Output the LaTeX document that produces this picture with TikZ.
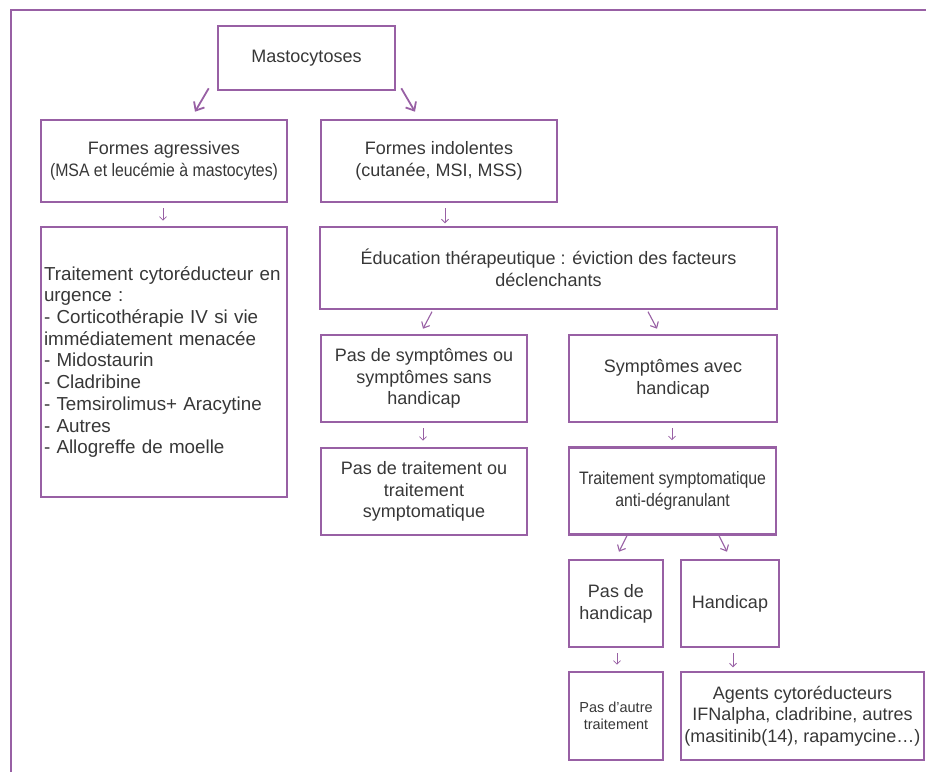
\documentclass[tikz,border=0pt]{standalone}
\usepackage{fontspec}
\setmainfont{Liberation Sans}
\newfontfamily\condfont[FakeStretch=0.88]{Liberation Sans}
\usetikzlibrary{arrows.meta,calc}
\definecolor{frame}{RGB}{152,96,164}
\definecolor{txt}{RGB}{55,55,55}
\begin{document}
\begin{tikzpicture}[x=1pt,y=-1pt,
  font=\fontsize{18}{21.7}\selectfont,
  box/.style={draw=frame, line width=2.6pt, text=txt, align=center, inner sep=2pt},
  bigarr/.style={draw=frame, line width=1.8pt, -{Straight Barb[length=7pt,width=12pt,line width=1.8pt]}},
  midarr/.style={draw=frame, line width=1.1pt, -{Straight Barb[length=5pt,width=9pt,line width=1.1pt]}},
  smallarr/.style={draw=frame, line width=0.8pt, -{Straight Barb[length=3.5pt,width=7pt,line width=0.8pt]}}]
\useasboundingbox (0,0) rectangle (926,772);
% outer frame
\draw[frame, line width=2.6pt] (11,772) -- (11,10) -- (926,10);

\node[box, minimum width=177pt, minimum height=64pt] (mast) at (306.5,58) {Mastocytoses};
\node[box, minimum width=246pt, minimum height=82pt] (agr) at (164,161)
  {Formes agressives\\{\condfont (MSA et leucémie à mastocytes)}};
\node[box, minimum width=236pt, minimum height=82pt] (ind) at (439,161)
  {Formes indolentes\\(cutanée, MSI, MSS)};
\node[box, text width=240pt, align=left, inner xsep=3pt, minimum height=270pt,
  font=\fontsize{18.8}{21.7}\selectfont] (cyt) at (164,362)
  {Traitement cytoréducteur en\\urgence :\\- Corticothérapie IV si vie\\immédiatement menacée\\- Midostaurin\\- Cladribine\\- Temsirolimus+ Aracytine\\- Autres\\- Allogreffe de moelle};
\node[box, minimum width=457pt, minimum height=82pt] (edu) at (548.5,268)
  {Éducation thérapeutique : éviction des facteurs\\déclenchants};
\node[box, minimum width=206pt, minimum height=87pt] (psy) at (424,378.5)
  {Pas de symptômes ou\\symptômes sans\\handicap};
\node[box, minimum width=208pt, minimum height=87pt] (sav) at (673,378.5)
  {Symptômes avec\\handicap};
\node[box, minimum width=206pt, minimum height=87pt] (ptr) at (424,491.5)
  {Pas de traitement ou\\traitement\\symptomatique};
\node[box, minimum width=207pt, minimum height=87pt] (tsy) at (672.5,491)
  {{\condfont Traitement symptomatique}\\{\condfont anti-dégranulant}};
\node[box, minimum width=94pt, minimum height=87pt] (pdh) at (616,603.5)
  {Pas de\\handicap};
\node[box, minimum width=98pt, minimum height=87pt] (hand) at (730,603.5)
  {Handicap};
\node[box, minimum width=94pt, minimum height=88pt,
  font=\fontsize{14.5}{16.7}\selectfont] (pat) at (616,716)
  {Pas d’autre\\traitement};
\node[box, minimum width=243pt, minimum height=88pt] (agents) at (802.5,716)
  {Agents cytoréducteurs\\IFNalpha, cladribine, autres\\(masitinib(14), rapamycine…)};

% connectors
\draw[bigarr] ($(mast.south west)+(-8,-3)$) -- ($(agr.north)+(31,-7)$);
\draw[bigarr] ($(mast.south east)+(5,-3)$) -- ($(ind.north)+(-24,-7)$);
\draw[smallarr] ($(agr.south)+(-1,5)$) -- ($(cyt.north)+(-1,-5)$);
\draw[smallarr] ($(ind.south)+(6,5)$) -- ($(ind.south)+(6,20)$);
\draw[midarr] ($(psy.north)+(8,-22)$) -- ($(psy.north)+(-1,-5)$);
\draw[midarr] ($(sav.north)+(-25,-22)$) -- ($(sav.north)+(-16,-5)$);
\draw[smallarr] ($(psy.south)+(-1,5)$) -- ($(ptr.north)+(-1,-6)$);
\draw[smallarr] ($(sav.south)+(-1,5)$) -- ($(tsy.north)+(-0.5,-6)$);
\draw[midarr] ($(pdh.north)+(11,-23)$) -- ($(pdh.north)+(3,-7)$);
\draw[midarr] ($(hand.north)+(-11,-23)$) -- ($(hand.north)+(-3,-7)$);
\draw[smallarr] ($(pdh.south)+(1,5)$) -- ($(pat.north)+(1,-6)$);
\draw[smallarr] ($(hand.south)+(3,5)$) -- ($(hand.south)+(3,19)$);
\end{tikzpicture}
\end{document}
